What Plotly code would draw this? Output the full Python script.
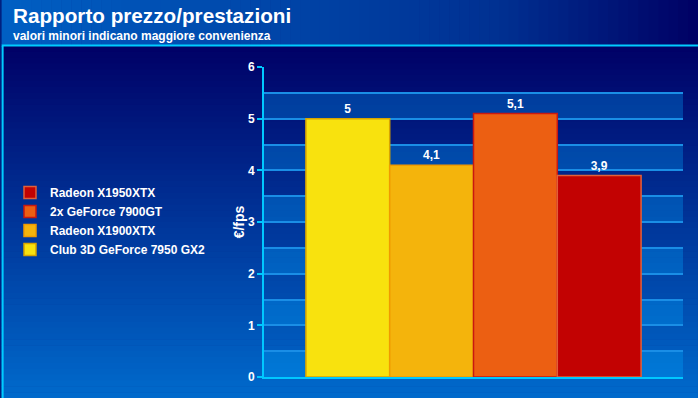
import plotly.graph_objects as go

# ---- data ----
cards = ["Club 3D GeForce 7950 GX2", "Radeon X1900XTX", "2x GeForce 7900GT", "Radeon X1950XTX"]
values = [5.0, 4.1, 5.1, 3.9]
bar_colors = ["#f8e20e", "#f4b40c", "#ec5f12", "#c20202"]
bar_lines = ["#d8a400", "#f09a00", "#c81810", "#e0603a"]
y_ticks = [0, 1, 2, 3, 4, 5, 6]
title_text = "Rapporto prezzo/prestazioni"
subtitle_text = "valori minori indicano maggiore convenienza"
y_title = "€/fps"

W, H = 698, 398
ML, MR, MT, MB = 263, 15, 67, 21
PW, PH = W - ML - MR, H - MT - MB


def px_x(px):
    return (px - ML) / PW


def px_y(py):
    return (H - MB - py) / PH


def lerp(c0, c1, t):
    return tuple(round(a + (b - a) * t) for a, b in zip(c0, c1))


def rgb(c):
    return "rgb(%d,%d,%d)" % c


shapes = []
# body vertical gradient
top_c, bot_c = (0, 0, 102), (0, 106, 204)
N = 60
y_start, y_end = 46, H
for i in range(N):
    a = y_start + (y_end - y_start) * i / N
    b = y_start + (y_end - y_start) * (i + 1) / N
    c = lerp(top_c, bot_c, (i + 0.5) / N)
    shapes.append(dict(type="rect", xref="paper", yref="paper", x0=px_x(0), x1=px_x(W),
                       y0=px_y(b + 0.5), y1=px_y(a), fillcolor=rgb(c), line_width=0, layer="below"))
# header horizontal gradient
stops = [(0, (0, 95, 195)), (500, (0, 48, 145)), (W, (0, 0, 100))]
M = 70
for i in range(M):
    a = W * i / M
    b = W * (i + 1) / M
    m = (a + b) / 2
    for (p0, c0), (p1, c1) in zip(stops[:-1], stops[1:]):
        if p0 <= m <= p1:
            c = lerp(c0, c1, (m - p0) / (p1 - p0))
            break
    shapes.append(dict(type="rect", xref="paper", yref="paper", x0=px_x(a), x1=px_x(b + 0.5),
                       y0=px_y(45), y1=px_y(0), fillcolor=rgb(c), line_width=0, layer="below"))
# cyan header separator and left border
shapes.append(dict(type="line", xref="paper", yref="paper", x0=px_x(0), x1=px_x(W),
                   y0=px_y(45.5), y1=px_y(45.5), line=dict(color="#00ccff", width=2), layer="below"))
shapes.append(dict(type="line", xref="paper", yref="paper", x0=px_x(1), x1=px_x(1),
                   y0=px_y(46), y1=px_y(H), line=dict(color="#00ccff", width=2), layer="below"))
# alternating bands in plot area
for n in range(len(y_ticks) - 1):
    shapes.append(dict(type="rect", xref="x domain", yref="y", x0=0, x1=1,
                       y0=y_ticks[n], y1=y_ticks[n] + 0.5,
                       fillcolor="rgba(0,170,255,0.3)", line_width=0, layer="below"))

fig = go.Figure()
for name, v, col, lc in zip(cards, values, bar_colors, bar_lines):
    fig.add_trace(go.Bar(
        x=["GPU"], y=[v], name=name,
        marker=dict(color=col, line=dict(color=lc, width=1.5)),
        text=[v], texttemplate="%{y}", textposition="outside",
        textfont=dict(color="white", size=12, family="Liberation Sans, Arial", weight="bold"),
        cliponaxis=False,
    ))

fig.update_layout(
    width=W, height=H,
    margin=dict(l=ML, r=MR, t=MT, b=MB, pad=0),
    paper_bgcolor="#00207f", plot_bgcolor="rgba(0,0,0,0)",
    barmode="group", bargap=0.2, bargroupgap=0,
    separators=", ",
    showlegend=True,
    legend=dict(traceorder="reversed", x=px_x(10), y=px_y(221), xanchor="left", yanchor="middle",
                bgcolor="rgba(0,0,0,0)",
                font=dict(family="Liberation Sans, Arial", size=12, color="white", weight="bold"),
                itemwidth=30, tracegroupgap=0),
    xaxis=dict(showticklabels=False, showgrid=False, showline=True, linecolor="#00c8ff",
               linewidth=2, ticks="", zeroline=False, fixedrange=True),
    yaxis=dict(range=[0, 6], tickvals=y_ticks, ticks="outside", ticklen=5, tickwidth=2,
               tickcolor="#00c8ff", showline=True, linecolor="#00c8ff", linewidth=2,
               showgrid=True, gridcolor="#1a8ee6", gridwidth=1.5, zeroline=False,
               minor=dict(dtick=0.5, ticks="", showgrid=True, gridcolor="#1a8ee6", gridwidth=1.5),
               tickfont=dict(family="Liberation Sans, Arial", size=12, color="white", weight="bold"),
               title=dict(text=y_title, standoff=0,
                          font=dict(family="Liberation Sans, Arial", size=14, color="white", weight="bold"))),
    shapes=shapes,
    annotations=[
        dict(text=title_text, xref="paper", yref="paper", x=px_x(10), y=px_y(3), xanchor="left",
             yanchor="top", showarrow=False, borderpad=0,
             font=dict(family="Liberation Sans, Arial", size=20.7, color="white", weight="bold")),
        dict(text=subtitle_text, xref="paper", yref="paper", x=px_x(10), y=px_y(27.5), xanchor="left",
             yanchor="top", showarrow=False, borderpad=0,
             font=dict(family="Liberation Sans, Arial", size=12, color="white", weight="bold")),
    ],
)

fig.write_html("out.html")
